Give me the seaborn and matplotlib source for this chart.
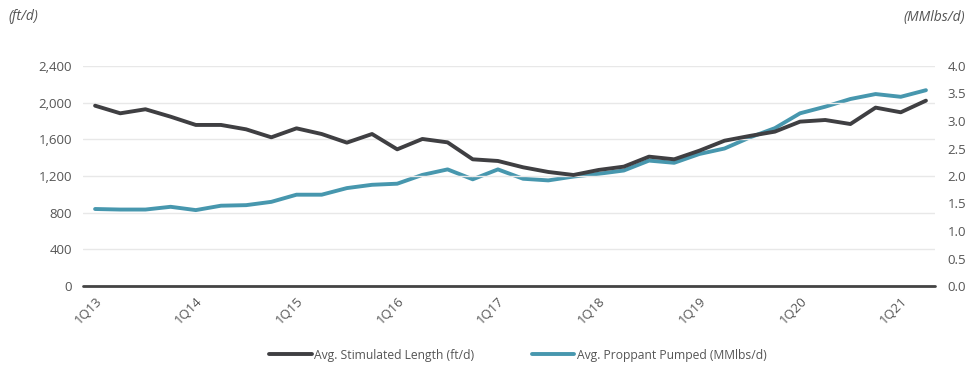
import numpy as np
import pandas as pd
import matplotlib
matplotlib.use("Agg")
import matplotlib.pyplot as plt
import seaborn as sns

quarters = [f"{q}Q{y}" for y in range(13, 22) for q in range(1, 5)][:34]
stim_length = [1967, 1884, 1928, 1847, 1757, 1757, 1709, 1622, 1720, 1658,
               1564, 1658, 1491, 1604, 1567, 1382, 1364, 1295, 1244, 1211,
               1266, 1302, 1411, 1382, 1476, 1585, 1637, 1684, 1793, 1811,
               1767, 1946, 1895, 2022]
proppant = [1.40, 1.39, 1.39, 1.44, 1.38, 1.46, 1.47, 1.53, 1.66, 1.66,
            1.78, 1.84, 1.86, 2.02, 2.12, 1.94, 2.12, 1.95, 1.92, 1.99,
            2.04, 2.10, 2.28, 2.24, 2.40, 2.50, 2.70, 2.87, 3.14, 3.26,
            3.40, 3.49, 3.44, 3.56]
left_ticks = [0, 400, 800, 1200, 1600, 2000, 2400]
right_ticks = [0.0, 0.5, 1.0, 1.5, 2.0, 2.5, 3.0, 3.5, 4.0]
label_every = 4

df = pd.DataFrame({"idx": np.arange(len(quarters)), "quarter": quarters,
                   "length": stim_length, "proppant": proppant})

sns.set_theme(style="white")
plt.rcParams['font.family'] = ['Open Sans', 'DejaVu Sans']

DARK = "#3f3f42"
TEAL = "#4797ae"
TXT = "#555555"

fig = plt.figure(figsize=(9.7, 3.72), dpi=100)
ax = fig.add_axes([83/970, 1-286/372, (935-83)/970, (286-66)/372])
ax2 = ax.twinx()

sns.lineplot(data=df, x="idx", y="length", ax=ax, color=DARK, lw=2.8,
             label="Avg. Stimulated Length (ft/d)", legend=False)
sns.lineplot(data=df, x="idx", y="proppant", ax=ax2, color=TEAL, lw=2.8,
             label="Avg. Proppant Pumped (MMlbs/d)", legend=False)
ax.set_zorder(ax2.get_zorder() + 1)
ax.patch.set_visible(False)

ax.set_xlim(-0.48, 33.36)
ax.set_ylim(0, 2400)
ax2.set_ylim(0, 4.0)
ax.set_yticks(left_ticks)
ax.set_yticklabels([f"{v:,}" for v in left_ticks])
ax2.set_yticks(right_ticks)
ax2.set_yticklabels([f"{v:.1f}" for v in right_ticks])
ax.yaxis.grid(True, color="#e8e8e8", lw=1.0)
ax2.grid(False)
ax.xaxis.grid(False)

xt = list(range(0, len(quarters), label_every))
ax.set_xticks(xt)
ax.set_xticklabels([quarters[i] for i in xt], rotation=45, ha="right",
                   rotation_mode="anchor")
ax.set_xlabel("")
ax.set_ylabel("")
ax2.set_ylabel("")

for a in (ax, ax2):
    for s in a.spines.values():
        s.set_visible(False)
ax.axhline(0, color="#444444", lw=2.0, zorder=5, clip_on=False)

ax.tick_params(axis="y", length=0, pad=8, labelsize=9.5, labelcolor=TXT)
ax2.tick_params(axis="y", length=0, pad=9, labelsize=9.5, labelcolor=TXT)
ax.tick_params(axis="x", length=0, pad=6, labelsize=9.5, labelcolor=TXT)

fig.text(8/970, 1-17/372, "(ft/d)", style="italic", fontsize=10, color=TXT,
         ha="left", va="center")
fig.text(965/970, 1-17/372, "(MMlbs/d)", style="italic", fontsize=10,
         color=TXT, ha="right", va="center")

h1, l1 = ax.get_legend_handles_labels()
h2, l2 = ax2.get_legend_handles_labels()
fig.legend(h1 + h2, l1 + l2, loc="center", bbox_to_anchor=(518/970, 1-355/372),
           ncol=2, frameon=False, fontsize=8.7, handlelength=3.5,
           handletextpad=0.2, columnspacing=4.8, labelcolor=TXT)

fig.savefig("out.png", dpi=100)
